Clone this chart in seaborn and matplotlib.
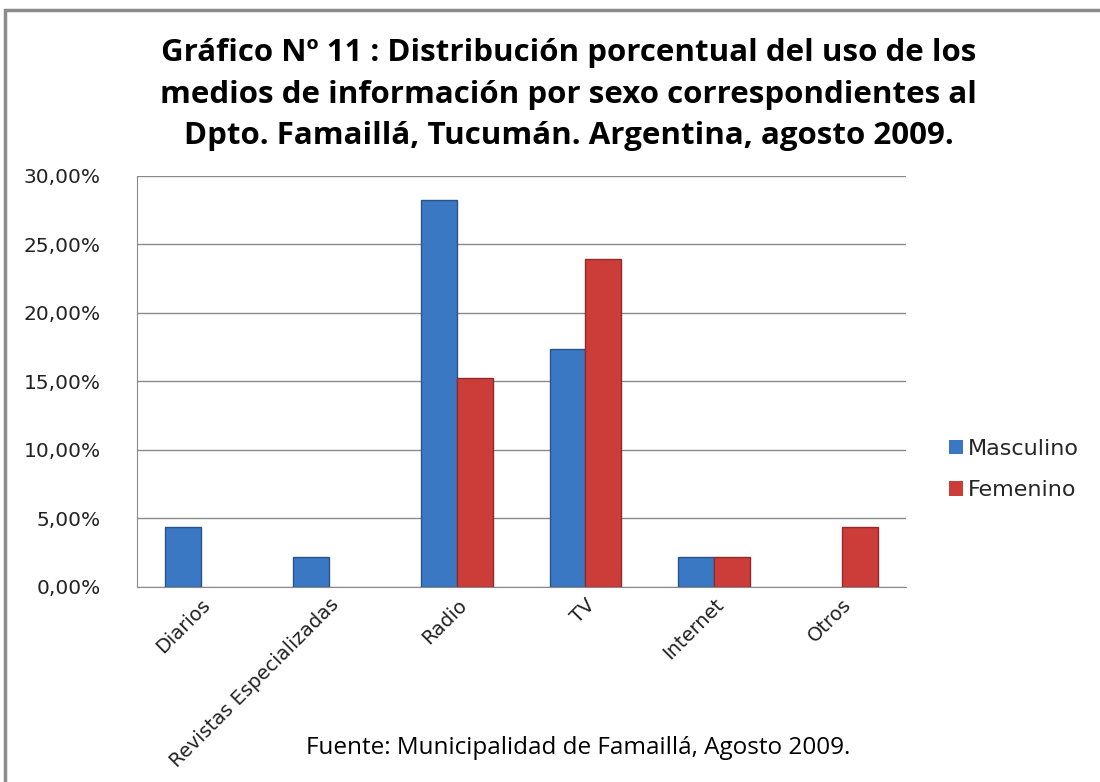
import pandas as pd
import seaborn as sns
import matplotlib.pyplot as plt
from matplotlib.ticker import FuncFormatter
from matplotlib.patches import Rectangle

categorias = ['Diarios', 'Revistas Especializadas', 'Radio', 'TV', 'Internet', 'Otros']
masculino = [4.35, 2.17, 28.26, 17.39, 2.17, 0.0]
femenino = [0.0, 0.0, 15.22, 23.91, 2.17, 4.35]
sexos = ['Masculino', 'Femenino']
colores = ['#3B78C3', '#CC3D3A']

TITULO = ('Gráfico Nº 11 : Distribución porcentual del uso de los\n'
          'medios de información por sexo correspondientes al\n'
          'Dpto. Famaillá, Tucumán. Argentina, agosto 2009.')
FUENTE = 'Fuente: Municipalidad de Famaillá, Agosto 2009.'


def collect_data():
    rows = []
    for i, cat in enumerate(categorias):
        rows.append({'Medio': cat, 'Sexo': 'Masculino', 'Porcentaje': masculino[i]})
        rows.append({'Medio': cat, 'Sexo': 'Femenino', 'Porcentaje': femenino[i]})
    return pd.DataFrame(rows)


def main():
    data_df = collect_data()
    sns.set_style('white')
    plt.rcParams['font.family'] = ['DejaVu Sans']

    fig = plt.figure(figsize=(11, 7.82), dpi=100)
    fig.patches.append(Rectangle((5 / 1100, -0.1), 1.2, 1 - 10 / 782 + 0.1,
                                 transform=fig.transFigure, fill=False,
                                 edgecolor='#8c8c8c', linewidth=2.5))
    ax = fig.add_axes([0.1245, 0.2494, 0.699, 0.5256])

    sns.barplot(data=data_df, x='Medio', y='Porcentaje', hue='Sexo',
                hue_order=sexos, palette=colores, width=0.56, ax=ax,
                saturation=1, errorbar=None, zorder=3)
    for bar in ax.patches:
        fc = bar.get_facecolor()
        bar.set_edgecolor(tuple(c * 0.7 for c in fc[:3]))
        bar.set_linewidth(1 if bar.get_height() > 0 else 0)

    ax.set_ylim(0, 30)
    ax.set_yticks([0, 5, 10, 15, 20, 25, 30])
    ax.yaxis.set_major_formatter(FuncFormatter(lambda v, p: '{:.2f}%'.format(v).replace('.', ',')))
    ax.grid(axis='y', color='#8a8a8a', linewidth=1, zorder=0)
    ax.grid(axis='x', visible=False)
    for s in ['top', 'right']:
        ax.spines[s].set_visible(False)
    ax.spines['left'].set_color('#8a8a8a')
    ax.spines['bottom'].set_color('#8a8a8a')
    ax.set_xlabel('')
    ax.set_ylabel('')
    ax.tick_params(axis='y', length=0, pad=26, labelsize=14.5, labelcolor='#222222')
    ax.tick_params(axis='x', length=0, pad=6, labelsize=14, labelcolor='#222222')
    plt.setp(ax.get_xticklabels(), rotation=45, ha='right', rotation_mode='anchor')

    ax.legend(loc='center left', bbox_to_anchor=(1.045, 0.285), frameon=False,
              fontsize=16, handlelength=0.6, handleheight=0.6, borderaxespad=0,
              handletextpad=0.25, labelspacing=0.95)

    fig.text(0.517, 0.879, TITULO, ha='center', va='center', fontsize=22.5,
             fontweight='bold', linespacing=1.5, color='black',
             family=['Open Sans', 'DejaVu Sans'])
    fig.text(0.526, 0.043, FUENTE, ha='center', va='center', fontsize=17.5,
             family=['Open Sans', 'DejaVu Sans'], color='black')

    plt.savefig('out.png', dpi=100)


main()
